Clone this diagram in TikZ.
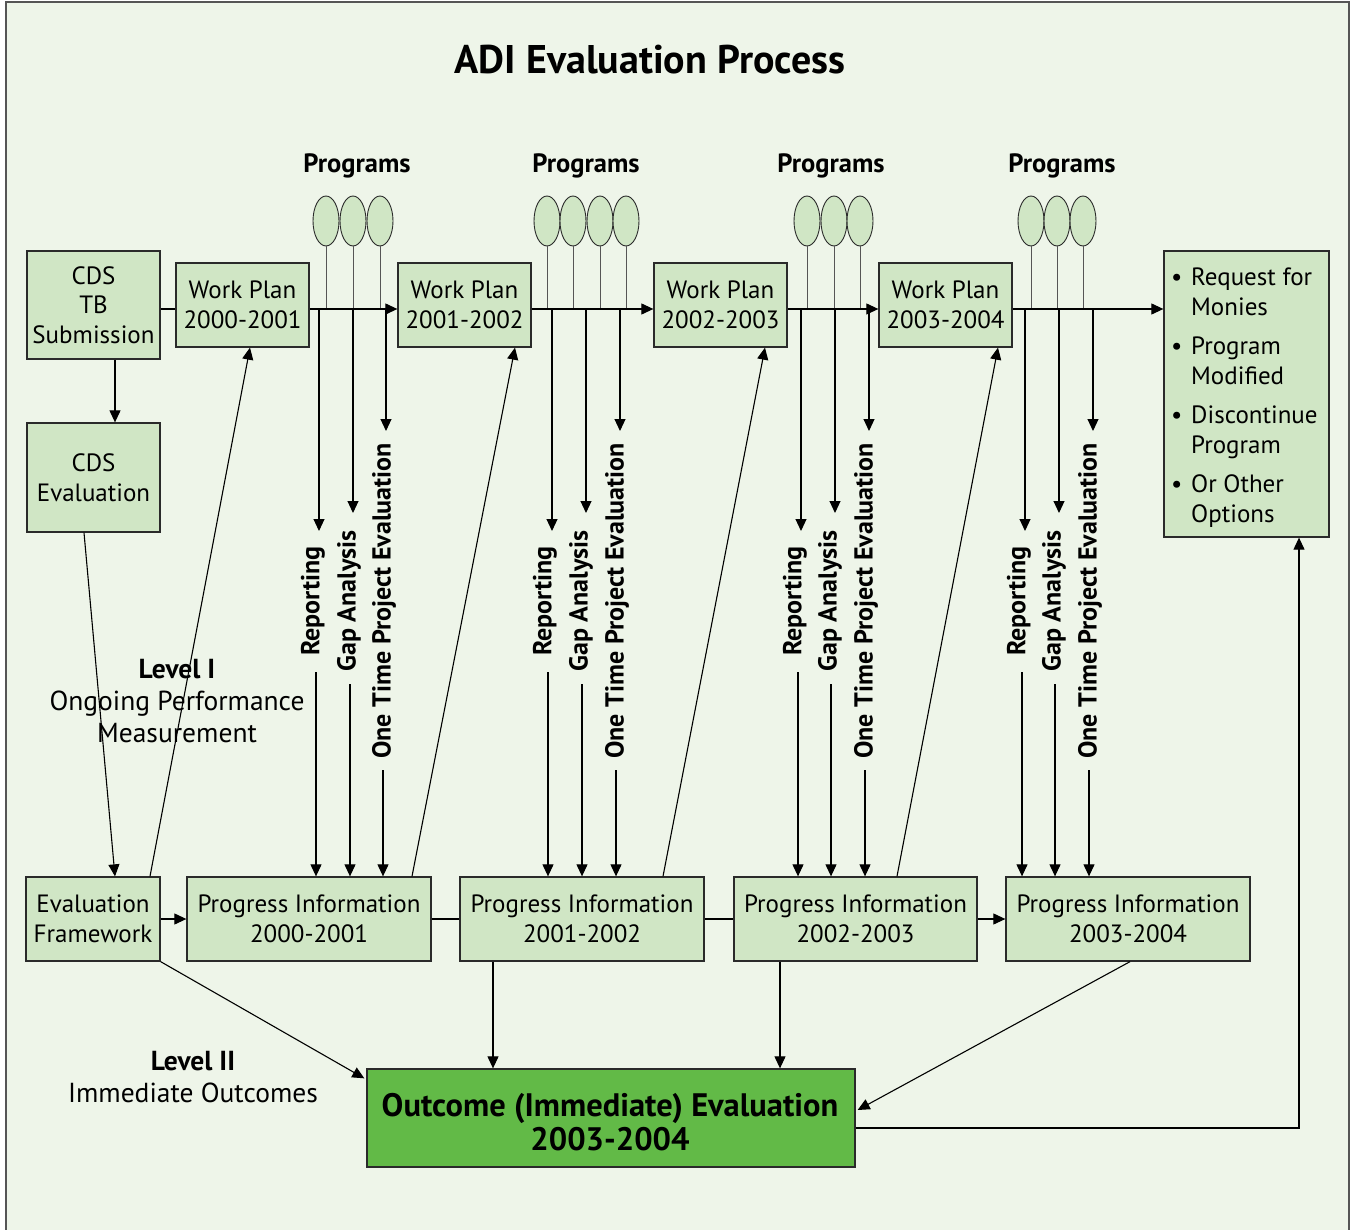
\documentclass[tikz,border=0pt]{standalone}
\usepackage{fontspec}
\setmainfont{PT Sans}
\usetikzlibrary{arrows.meta,shapes.geometric,calc}
\definecolor{bg}{HTML}{EEF5E9}
\definecolor{boxg}{HTML}{D0E6C5}
\definecolor{outg}{HTML}{62BA47}
\definecolor{edgec}{HTML}{2A2A2A}
\definecolor{framec}{HTML}{555555}
\newcommand\fsz[2]{\fontsize{#1pt}{#2pt}\selectfont}
\begin{document}
\begin{tikzpicture}[x=1pt,y=-1pt,
  box/.style={draw=edgec, line width=1.3pt, fill=boxg, inner sep=0pt, align=center, font=\fsz{25}{29.5}},
  prog/.style={ellipse, draw=edgec, line width=0.9pt, fill=boxg, minimum width=26pt, minimum height=50pt, inner sep=0pt},
  stem/.style={draw=edgec!80, line width=0.9pt},
  conn/.style={draw=black, line width=1.1pt},
  arr/.style={conn, -{Triangle[length=12pt,width=11pt]}},
  lab/.style={font=\bfseries\fsz{26}{30}, inner sep=0pt, rotate=90},
  plab/.style={font=\bfseries\fsz{26.5}{30}, inner sep=0pt},
  lvl/.style={font=\fsz{27.5}{32}, align=center, inner sep=0pt}]
\useasboundingbox (0,0) rectangle (1352,1230);
\fill[white] (0,0) rectangle (1352,1230);
\draw[framec, line width=2pt, fill=bg] (6,1240) -- (6,2) -- (1349,2) -- (1349,1240);

\node[font=\bfseries\fsz{40}{46}] (title) at (650,60) {ADI Evaluation Process};

% top boxes
\node[box, minimum width=133pt, minimum height=108pt] (cdstb) at (93.5,305) {CDS\\TB\\Submission};
\node[box, minimum width=133pt, minimum height=109pt] (cdseval) at (93.5,477.5) {CDS\\Evaluation};
\node[box, minimum width=133pt, minimum height=84pt] (wp1) at (242.5,305) {Work Plan\\2000-2001};
\node[box, minimum width=133pt, minimum height=84pt] (wp2) at (464.5,305) {Work Plan\\2001-2002};
\node[box, minimum width=133pt, minimum height=84pt] (wp3) at (720.5,305) {Work Plan\\2002-2003};
\node[box, minimum width=133pt, minimum height=84pt] (wp4) at (945.5,305) {Work Plan\\2003-2004};
\node[box, minimum width=165pt, minimum height=286pt] (opts) at (1246.5,394) {};
\node[font=\fsz{25}{29.5}, align=left, anchor=west, inner sep=0pt] (optstext) at (1171,397.5) {%
\makebox[20pt][l]{\textbullet}Request for\\\hspace*{20pt}Monies\\[10pt]
\makebox[20pt][l]{\textbullet}Program\\\hspace*{20pt}Modified\\[10pt]
\makebox[20pt][l]{\textbullet}Discontinue\\\hspace*{20pt}Program\\[10pt]
\makebox[20pt][l]{\textbullet}Or Other\\\hspace*{20pt}Options};

% bottom boxes
\node[box, minimum width=134pt, minimum height=84pt] (evalfw) at (93,919) {Evaluation\\Framework};
\node[box, minimum width=244pt, minimum height=84pt] (pi1) at (309,919) {Progress Information\\2000-2001};
\node[box, minimum width=244pt, minimum height=84pt] (pi2) at (582,919) {Progress Information\\2001-2002};
\node[box, minimum width=243pt, minimum height=84pt] (pi3) at (855.5,919) {Progress Information\\2002-2003};
\node[box, minimum width=244pt, minimum height=84pt] (pi4) at (1128,919) {Progress Information\\2003-2004};
\node[box, fill=outg, minimum width=488pt, minimum height=98pt] (outcome) at (611,1118) {};
\node[font=\bfseries\fsz{32.5}{34}, align=center, inner sep=0pt] (outcometext) at (610,1122) {Outcome (Immediate) Evaluation\\2003-2004};

% programs labels
\node[plab] (pg1) at (357,166) {Programs};
\node[plab] (pg2) at (586,166) {Programs};
\node[plab] (pg3) at (831,166) {Programs};
\node[plab] (pg4) at (1062,166) {Programs};

% level texts
\node[lvl] (lvl1) at (177,701) {\textbf{Level I}\\Ongoing Performance\\Measurement};
\node[lvl] (lvl2) at (193,1077) {\textbf{Level II}\\Immediate Outcomes};

\coordinate (hl) at (0,309);

% ellipses and stems
\foreach \x [count=\i] in {326,353,380,547,573,600,626,807,834,860,1031,1057,1083}{
  \node[prog] (e\i) at (\x,221) {};
  \draw[stem] (e\i.south) -- (e\i.south |- hl);
}

% main horizontal line
\draw[conn] (cdstb.east |- hl) -- (wp1.west |- hl);
\draw[arr] (wp1.east |- hl) -- (wp2.west |- hl);
\draw[arr] (wp2.east |- hl) -- (wp3.west |- hl);
\draw[arr] (wp3.east |- hl) -- (wp4.west |- hl);
\draw[arr] (wp4.east |- hl) -- (opts.west |- hl);

% vertical labels and arrows
\foreach \g/\ru/\rl/\gu/\gl/\ou/\ol in {1/319/316/353/350/386/383, 2/552/548/586/582/620/616, 3/801/798/835/831/869/865, 4/1025/1022/1059/1055/1093/1089}{
  \node[lab] (rep\g) at (\rl-3,601) {Reporting};
  \node[lab] (gap\g) at (\gl-1,601) {Gap Analysis};
  \node[lab] (ote\g) at (\ol+1,601) {One Time Project Evaluation};
  \coordinate (rt\g) at (\ru,309); \coordinate (rb\g) at (\ru,531);
  \coordinate (gt\g) at (\gu,309); \coordinate (gb\g) at (\gu,513);
  \coordinate (ot\g) at (\ou,309); \coordinate (ob\g) at (\ou,431);
  \draw[arr] (rt\g) -- (rb\g);
  \draw[arr] (gt\g) -- (gb\g);
  \draw[arr] (ot\g) -- (ob\g);
  \coordinate (rl\g) at (\rl,672);
  \coordinate (gl\g) at (\gl,684);
  \coordinate (ol\g) at (\ol,770);
  \draw[arr] (rl\g) -- (rl\g |- pi\g.north);
  \draw[arr] (gl\g) -- (gl\g |- pi\g.north);
  \draw[arr] (ol\g) -- (ol\g |- pi\g.north);
}

% left column
\draw[arr] (115,0 |- cdstb.south) -- (115,0 |- cdseval.north);
\draw[arr] (84,0 |- cdseval.south) -- (115,0 |- evalfw.north);

% diagonals up to work plans
\draw[arr] (150,0 |- evalfw.north) -- (250,0 |- wp1.south);
\draw[arr] (412,0 |- pi1.north) -- (515,0 |- wp2.south);
\draw[arr] (663,0 |- pi2.north) -- (765,0 |- wp3.south);
\draw[arr] (897,0 |- pi3.north) -- (998,0 |- wp4.south);

% bottom horizontal line
\draw[arr] (evalfw.east) -- (pi1.west);
\draw[conn] (pi1.east) -- (pi2.west);
\draw[conn] (pi2.east) -- (pi3.west);
\draw[arr] (pi3.east) -- (pi4.west);

% to outcome
\draw[arr] (evalfw.south east) -- ($(outcome.north west)+(-2,10)$);
\draw[arr] (493,0 |- pi2.south) -- (493,0 |- outcome.north);
\draw[arr] (780,0 |- pi3.south) -- (780,0 |- outcome.north);
\draw[arr] (1130,0 |- pi4.south) -- ($(outcome.east)+(2,-8)$);
\draw[arr] (outcome.east |- 0,1128) -| (1299,0 |- opts.south);
\end{tikzpicture}
\end{document}
